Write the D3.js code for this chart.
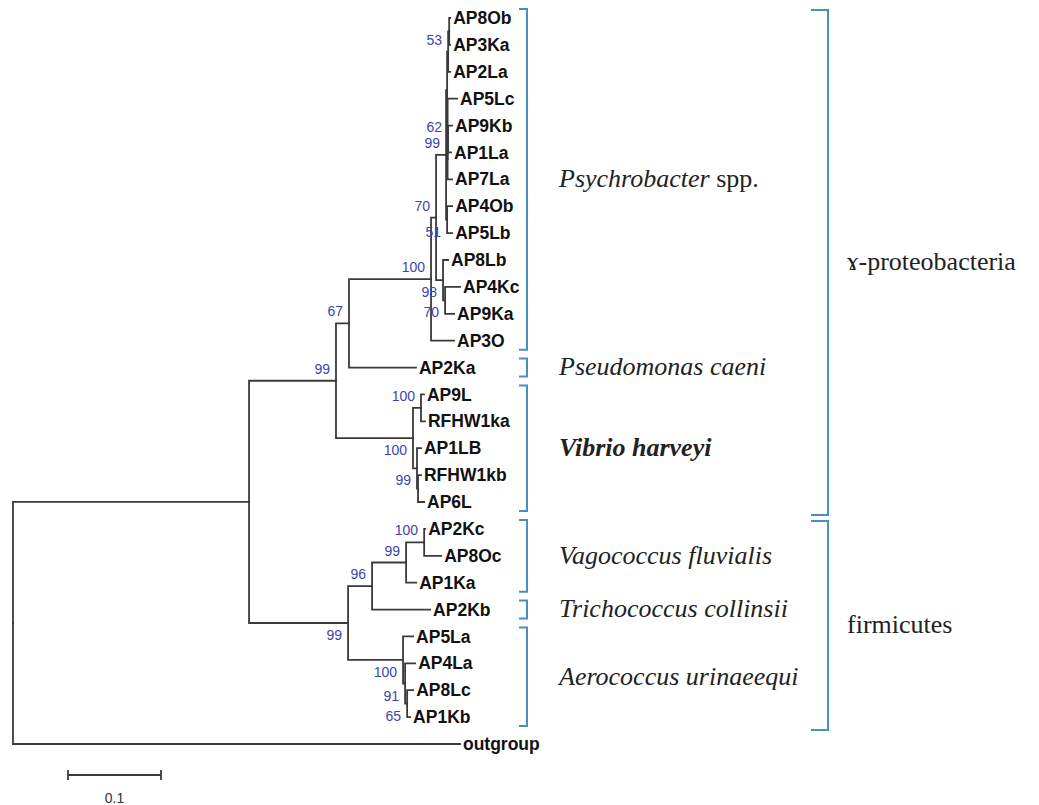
<!DOCTYPE html>
<html>
<head>
<meta charset="utf-8">
<script src="https://cdn.jsdelivr.net/npm/d3@7"></script>
<style>
  body { margin: 0; background: #fff; }
  svg { display: block; }
</style>
</head>
<body>
<svg id="tree-svg" width="1039" height="805"></svg>
<script>
/* data: tree in newick form, bootstrap values after ")" */
const newick =
  "((((((((((((AP8Ob:0.0011,AP3Ka:0.0011):0.0011,AP2La:0.0022)53:0.0011," +
  "(AP5Lc:0.0102,((AP9Kb:0.0043,AP1La:0.0032)62:0.0005,AP7La:0.0048):0):0.0005):0.0011," +
  "(AP4Ob:0.0054,AP5Lb:0.0054)51:0.0011)99:0.0108," +
  "(AP8Lb:0.0054,(AP4Kc:0.0161,AP9Ka:0.0097)70:0.0022)98:0.0075)70:0.0054," +
  "AP3O:0.0247)100:0.0882,AP2Ka:0.0720)67:0.0140," +
  "((AP9L:0.0032,RFHW1ka:0.0043)100:0.0086,(AP1LB:0.0043,(RFHW1kb:0.0032,AP6L:0.0065):0.0011)99:0.0043)100:0.0828)99:0.0935," +
  "((((AP2Kc:0.0011,AP8Oc:0.0183)100:0.0194,AP1Ka:0.0108)99:0.0366,AP2Kb:0.0624)96:0.0258," +
  "(AP5La:0.0108,(AP4La:0.0108,(AP8Lc:0.0065,AP1Kb:0.0032)65:0.0022)91:0.0022)100:0.0591)99:0.1065):0.2538," +
  "outgroup:0.4806);";

const cladeNames = ["Psychrobacter", "Pseudomonas caeni", "Vibrio harveyi",
  "Vagococcus fluvialis", "Trichococcus collinsii", "Aerococcus urinaeequi"];
const cladeSuffix = [" spp.", "", "", "", "", ""];
const cladeFirst = ["AP8Ob", "AP2Ka", "AP9L", "AP2Kc", "AP2Kb", "AP5La"];
const cladeLast = ["AP3O", "AP2Ka", "AP6L", "AP1Ka", "AP2Kb", "AP1Kb"];
const boldClade = "Vibrio harveyi";

const groupNames = ["ɤ-proteobacteria", "firmicutes"];
const groupFirst = ["AP8Ob", "AP2Kc"];
const groupLast = ["AP6L", "AP1Kb"];

const scaleBarValue = 0.1;

/* newick parser */
function parseNewick(s) {
  let i = 0;
  function node() {
    const n = {};
    if (s[i] === "(") {
      n.children = [];
      i++;
      do { n.children.push(node()); } while (s[i++] === ",");
    }
    let name = "";
    while (i < s.length && !",):;".includes(s[i])) name += s[i++];
    if (n.children) n.support = name.trim(); else n.name = name.trim();
    n.length = 0;
    if (s[i] === ":") {
      i++;
      let len = "";
      while (i < s.length && !",);".includes(s[i])) len += s[i++];
      n.length = +len;
    }
    return n;
  }
  return node();
}

const svg = d3.select("#tree-svg");
const lineColor = "#3a3a3a";
const bracketColor = "#4a8fbf";

const root = d3.hierarchy(parseNewick(newick));
root.eachBefore((d) => { d.len = (d.parent ? d.parent.len : 0) + d.data.length; });

const leaves = root.leaves();
const x = d3.scaleLinear().domain([0, 0.1]).range([13, 106]);
const y = d3.scaleLinear().domain([0, leaves.length - 1]).range([18, 744]);

leaves.forEach((d, i) => { d.y = y(i); });
root.eachAfter((d) => {
  d.x = x(d.len);
  if (d.children) d.y = (d.children[0].y + d.children[d.children.length - 1].y) / 2;
});

const g = svg.append("g");

// branches
g.selectAll(".link")
  .data(root.links())
  .enter()
  .append("path")
  .attr("class", "link")
  .attr("d", (d) => `M${d.source.x},${d.source.y}V${d.target.y}H${d.target.x}`)
  .attr("fill", "none")
  .attr("stroke", lineColor)
  .attr("stroke-width", 1.8)
  .attr("stroke-linecap", "square");

// leaf names
g.selectAll(".leaf")
  .data(leaves)
  .enter()
  .append("text")
  .attr("x", (d) => d.x + 3)
  .attr("y", (d) => d.y)
  .attr("dy", "0.35em")
  .attr("font-family", "'Liberation Sans', Arial, sans-serif")
  .attr("font-weight", "bold")
  .attr("font-size", 17.5)
  .attr("fill", "#111")
  .text((d) => d.data.name);

// bootstrap values: above the stem for upper child, below for lower child
const supported = root.descendants().filter((d) => d.children && d.data.support);
g.selectAll(".boot")
  .data(supported)
  .enter()
  .append("text")
  .attr("x", (d) => d.x - 6)
  .attr("y", (d) => {
    const upper = d.parent && d.parent.children[0] === d;
    return upper ? d.y - 7 : d.y + 17;
  })
  .attr("text-anchor", "end")
  .attr("font-family", "'Liberation Sans', Arial, sans-serif")
  .attr("font-size", 14)
  .attr("fill", "#3d44b0")
  .text((d) => d.data.support);

// brackets
const leafY = new Map(leaves.map((d) => [d.data.name, d.y]));
function bracket(x0, y0, y1, hook) {
  return `M${x0 - hook},${y0}H${x0}V${y1}H${x0 - hook}`;
}

const pad = 9;
const cladeX = 527;
cladeNames.forEach((name, i) => {
  const y0 = leafY.get(cladeFirst[i]) - pad;
  const y1 = leafY.get(cladeLast[i]) + pad;
  g.append("path")
    .attr("d", bracket(cladeX, y0, y1, 8))
    .attr("fill", "none")
    .attr("stroke", bracketColor)
    .attr("stroke-width", 2);
  const t = g.append("text")
    .attr("x", cladeX + 32)
    .attr("y", (y0 + y1) / 2)
    .attr("dy", "0.3em")
    .attr("font-family", "'Liberation Serif', 'Times New Roman', serif")
    .attr("font-size", 26)
    .attr("fill", "#222");
  t.append("tspan")
    .attr("font-style", "italic")
    .attr("font-weight", name === boldClade ? "bold" : "normal")
    .text(name);
  if (cladeSuffix[i]) t.append("tspan").text(cladeSuffix[i]);
});

const groupX = 828;
groupNames.forEach((name, i) => {
  const y0 = leafY.get(groupFirst[i]) - pad + 1;
  const y1 = leafY.get(groupLast[i]) + pad + 4;
  g.append("path")
    .attr("d", bracket(groupX, y0, y1, 17))
    .attr("fill", "none")
    .attr("stroke", bracketColor)
    .attr("stroke-width", 2);
  g.append("text")
    .attr("x", groupX + 19)
    .attr("y", (y0 + y1) / 2)
    .attr("dy", "0.3em")
    .attr("font-family", "'Liberation Serif', 'Times New Roman', serif")
    .attr("font-size", 26)
    .attr("fill", "#222")
    .text(name);
});

// scale bar
const barX = 68, barY = 775;
const barW = x(scaleBarValue) - x(0);
const bar = svg.append("g").attr("stroke", lineColor).attr("stroke-width", 1.8);
bar.append("line").attr("x1", barX).attr("x2", barX + barW).attr("y1", barY).attr("y2", barY);
bar.append("line").attr("x1", barX).attr("x2", barX).attr("y1", barY - 5).attr("y2", barY + 5);
bar.append("line").attr("x1", barX + barW).attr("x2", barX + barW).attr("y1", barY - 5).attr("y2", barY + 5);
svg.append("text")
  .attr("x", barX + barW / 2)
  .attr("y", 803)
  .attr("text-anchor", "middle")
  .attr("font-family", "'Liberation Sans', Arial, sans-serif")
  .attr("font-size", 14)
  .attr("fill", "#333")
  .text(scaleBarValue);
</script>
</body>
</html>
